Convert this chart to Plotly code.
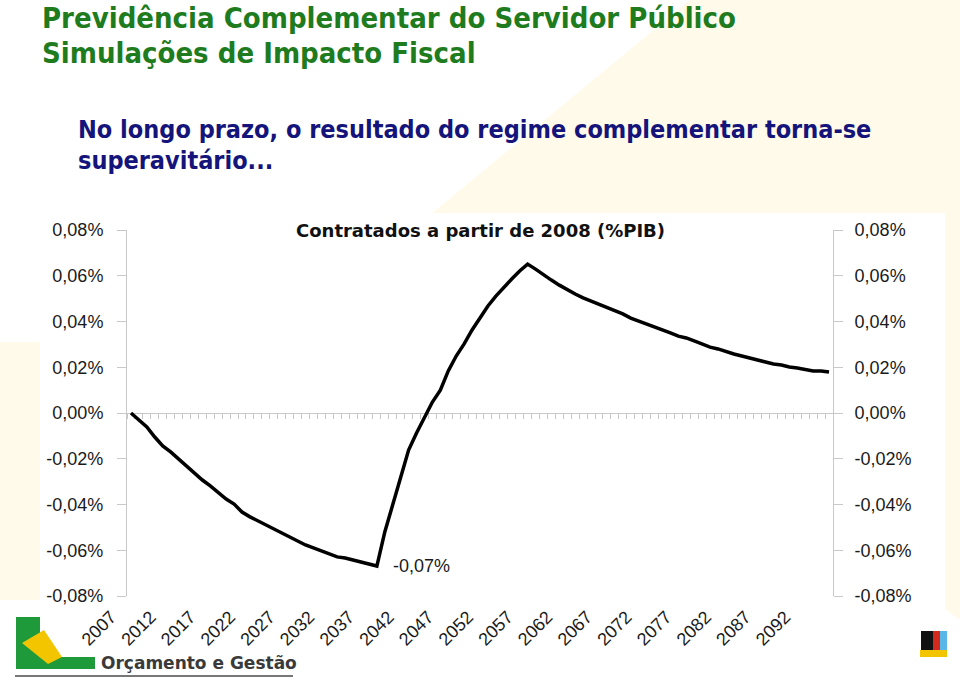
import plotly.graph_objects as go

#-------------------------------------------------------------------------------------------
# data (resultado em % do PIB, contratados a partir de 2008)
years = list(range(2007, 2096))
values = [
	0.0000, -0.0031, -0.0061, -0.0105, -0.0144, -0.0170, -0.0201, -0.0236, -0.0262, -0.0293,
	-0.0319, -0.0350, -0.0376, -0.0398, -0.0433, -0.0454, -0.0472, -0.0489, -0.0507, -0.0524,
	-0.0542, -0.0559, -0.0577, -0.0590, -0.0603, -0.0616, -0.0629, -0.0634, -0.0642, -0.0651,
	-0.0660, -0.0669, -0.0520, -0.0402, -0.0271, -0.0162, -0.0087, -0.0022, 0.0048, 0.0100,
	0.0184, 0.0249, 0.0302, 0.0363, 0.0415, 0.0468, 0.0511, 0.0551, 0.0586, 0.0621,
	0.0651, 0.0629, 0.0603, 0.0581, 0.0559, 0.0538, 0.0520, 0.0503, 0.0489, 0.0476,
	0.0463, 0.0446, 0.0433, 0.0415, 0.0402, 0.0393, 0.0380, 0.0367, 0.0350, 0.0336,
	0.0328, 0.0315, 0.0302, 0.0288, 0.0280, 0.0267, 0.0258, 0.0249, 0.0240, 0.0232,
	0.0223, 0.0214, 0.0210, 0.0201, 0.0197, 0.0192, 0.0184, 0.0184, 0.0179,
]
year_ticks = list(range(2007, 2093, 5))
y_ticks = [-0.08, -0.06, -0.04, -0.02, 0.0, 0.02, 0.04, 0.06, 0.08]
y_tick_labels = ["-0,08%", "-0,06%", "-0,04%", "-0,02%", "0,00%", "0,02%", "0,04%", "0,06%", "0,08%"]
minor_ticks = [y - 0.5 for y in range(2007, 2097)]

title_lines = ["Previdência Complementar do Servidor Público", "Simulações de Impacto Fiscal"]
subtitle_lines = ["No longo prazo, o resultado do regime complementar torna-se", "superavitário..."]
chart_title = "Contratados a partir de 2008 (%PIB)"

#-------------------------------------------------------------------------------------------
W, H = 960, 681
GREEN = "#1e7b1e"
NAVY = "#14147a"
AXIS_GREY = "#c8c8c8"
PALE = "rgba(255,238,180,0.28)"
TICK_FONT = dict(family="Liberation Sans, Arial, sans-serif", size=18, color="#1a1a1a")

def px(x):
	return x / W

def py(y):
	return 1 - y / H

X_DOM = [px(127), px(833)]
Y_DOM = [py(596), py(230)]
ZERO_POS = (Y_DOM[0] + Y_DOM[1]) / 2
X_RANGE = [2006.5, 2095.5]

fig = go.Figure()

fig.add_trace(go.Scatter(x=years, y=values, mode="lines",
	line=dict(color="black", width=3.5), showlegend=False, hoverinfo="x+y"))

# invisible trace so the right axis and the zero-line axis get drawn
fig.add_trace(go.Scatter(x=years, y=values, mode="lines", xaxis="x2", yaxis="y2",
	line=dict(color="rgba(0,0,0,0)"), showlegend=False, hoverinfo="skip"))

low = min(values)
low_year = years[values.index(low)]
fig.add_annotation(x=low_year, y=low, text=("%.2f%%" % low).replace(".", ","),
	showarrow=False, xanchor="left", yanchor="middle", xshift=14, yshift=0, font=TICK_FONT)

#-------------------------------------------------------------------------------------------
# texts
TITLE_FONT = dict(family="DejaVu Sans Condensed, DejaVu Sans", size=29, color=GREEN)
SUB_FONT = dict(family="DejaVu Sans Condensed, DejaVu Sans", size=25, color=NAVY)
fig.add_annotation(xref="paper", yref="paper", x=px(40), y=py(18), text="<b>" + title_lines[0] + "</b>",
	showarrow=False, xanchor="left", yanchor="middle", font=TITLE_FONT)
fig.add_annotation(xref="paper", yref="paper", x=px(40), y=py(53), text="<b>" + title_lines[1] + "</b>",
	showarrow=False, xanchor="left", yanchor="middle", font=TITLE_FONT)
fig.add_annotation(xref="paper", yref="paper", x=px(76), y=py(129), text="<b>" + subtitle_lines[0] + "</b>",
	showarrow=False, xanchor="left", yanchor="middle", font=SUB_FONT)
fig.add_annotation(xref="paper", yref="paper", x=px(76), y=py(160), text="<b>" + subtitle_lines[1] + "</b>",
	showarrow=False, xanchor="left", yanchor="middle", font=SUB_FONT)
fig.add_annotation(xref="paper", yref="paper", x=px(480), y=py(231), text="<b>" + chart_title + "</b>",
	showarrow=False, xanchor="center", yanchor="middle",
	font=dict(family="DejaVu Sans, sans-serif", size=18, color="#111111"))

# logo text
fig.add_annotation(xref="paper", yref="paper", x=px(99), y=py(663), text="<b>Orçamento e Gestão</b>",
	showarrow=False, xanchor="left", yanchor="middle",
	font=dict(family="DejaVu Sans", size=17, color="#3a3a3a"))

#-------------------------------------------------------------------------------------------
# background decoration and logos
shapes = []
shapes.append(dict(type="path", xref="paper", yref="paper", layer="below",
	path="M %f,%f L %f,%f L %f,%f L %f,%f Z" % (px(430), py(215), px(690), py(0), px(960), py(0), px(960), py(620)),
	fillcolor=PALE, line=dict(width=0)))
shapes.append(dict(type="rect", xref="paper", yref="paper", layer="below",
	x0=px(0), x1=px(40), y0=py(600), y1=py(342), fillcolor=PALE, line=dict(width=0)))
shapes.append(dict(type="rect", xref="paper", yref="paper", layer="below",
	x0=px(40), x1=px(945), y0=py(608), y1=py(213), fillcolor="white", line=dict(width=0)))
# orçamento e gestão logo
shapes.append(dict(type="rect", xref="paper", yref="paper", x0=px(16), x1=px(40), y0=py(669), y1=py(617),
	fillcolor="#1f9a3a", line=dict(width=0)))
shapes.append(dict(type="rect", xref="paper", yref="paper", x0=px(40), x1=px(95), y0=py(669), y1=py(657),
	fillcolor="#1f9a3a", line=dict(width=0)))
shapes.append(dict(type="path", xref="paper", yref="paper",
	path="M %f,%f L %f,%f L %f,%f L %f,%f Z" % (px(22), py(643), px(44), py(630), px(62), py(657), px(48), py(664)),
	fillcolor="#f2c500", line=dict(width=0)))
shapes.append(dict(type="line", xref="paper", yref="paper", x0=px(15), x1=px(293), y0=py(676), y1=py(676),
	line=dict(color="#777777", width=2)))
# small logo bottom right
shapes.append(dict(type="rect", xref="paper", yref="paper", x0=px(921), x1=px(933), y0=py(650), y1=py(631),
	fillcolor="#111111", line=dict(width=0)))
shapes.append(dict(type="rect", xref="paper", yref="paper", x0=px(933), x1=px(940), y0=py(650), y1=py(631),
	fillcolor="#d42a1e", line=dict(width=0)))
shapes.append(dict(type="rect", xref="paper", yref="paper", x0=px(940), x1=px(947), y0=py(650), y1=py(631),
	fillcolor="#58b7e6", line=dict(width=0)))
shapes.append(dict(type="rect", xref="paper", yref="paper", x0=px(920), x1=px(947), y0=py(657), y1=py(650),
	fillcolor="#f2c500", line=dict(width=0)))

#-------------------------------------------------------------------------------------------
fig.update_layout(
	width=W, height=H,
	margin=dict(l=0, r=0, t=0, b=0, autoexpand=False),
	paper_bgcolor="white",
	plot_bgcolor="rgba(0,0,0,0)",
	separators=",.",
	showlegend=False,
	shapes=shapes,
	xaxis=dict(domain=X_DOM, range=X_RANGE, tickvals=year_ticks, tickangle=-45, automargin=False,
		showline=False, showgrid=False, zeroline=False, ticks="", tickfont=TICK_FONT,
		ticklabelshift=-20, ticklabelstandoff=6),
	xaxis2=dict(overlaying="x", anchor="free", position=ZERO_POS, range=X_RANGE, automargin=False,
		tickvals=minor_ticks, ticks="outside", ticklen=5, tickcolor=AXIS_GREY,
		showline=True, linecolor=AXIS_GREY, linewidth=1, showticklabels=False,
		showgrid=False, zeroline=False, layer="below traces"),
	yaxis=dict(domain=Y_DOM, range=[-0.08, 0.08], tickvals=y_ticks, ticktext=y_tick_labels, automargin=False,
		showline=True, linecolor=AXIS_GREY, linewidth=1, ticks="outside", ticklen=9,
		tickcolor=AXIS_GREY, showgrid=False, zeroline=False, tickfont=TICK_FONT, ticklabelstandoff=10),
	yaxis2=dict(overlaying="y", side="right", anchor="x", range=[-0.08, 0.08], tickvals=y_ticks, automargin=False,
		ticktext=y_tick_labels, showline=True, linecolor=AXIS_GREY, linewidth=1, ticks="outside",
		ticklen=9, tickcolor=AXIS_GREY, showgrid=False, zeroline=False, tickfont=TICK_FONT,
		ticklabelstandoff=8),
)

# the page gets no body margin so the figure sits at the window origin
fig.write_html("out.html", config={"displayModeBar": False},
	post_script="document.body.style.margin='0';")
